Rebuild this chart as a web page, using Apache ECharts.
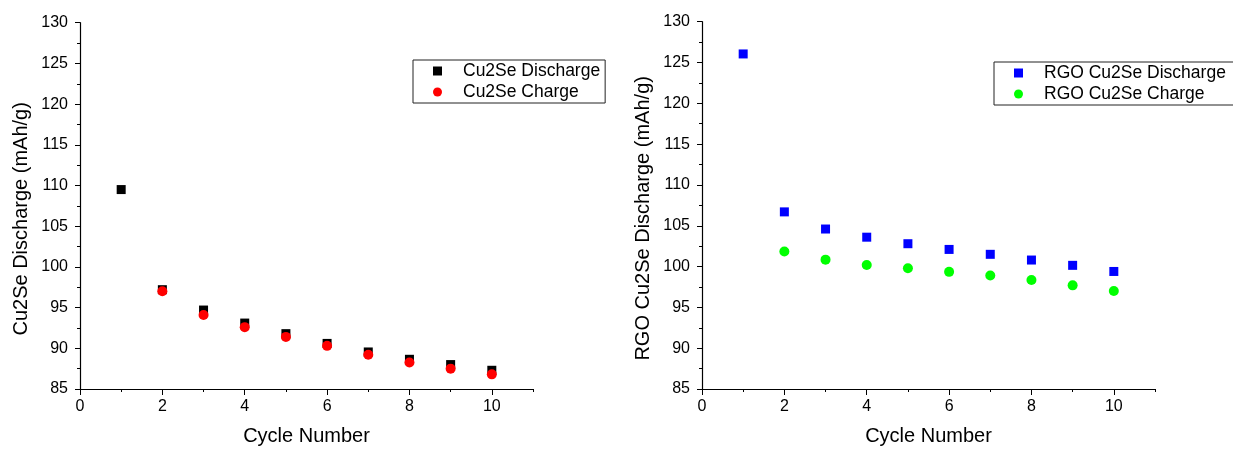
<!DOCTYPE html>
<html>
<head>
<meta charset="utf-8">
<script src="https://cdn.jsdelivr.net/npm/echarts@6/dist/echarts.min.js"></script>
<style>
html,body{margin:0;padding:0;background:#fff;}
#chart{width:1233px;height:451px;}
</style>
</head>
<body>
<div id="chart"></div>
<script>
const cycles = [1, 2, 3, 4, 5, 6, 7, 8, 9, 10];
const cu2seDischarge = [109.5, 97.2, 94.7, 93.1, 91.8, 90.6, 89.55, 88.65, 88.0, 87.3];
const cu2seCharge = [null, 97.0, 94.1, 92.6, 91.4, 90.3, 89.2, 88.25, 87.5, 86.8];
const rgoDischarge = [126.05, 106.7, 104.6, 103.6, 102.8, 102.1, 101.5, 100.8, 100.15, 99.4];
const rgoCharge = [null, 101.85, 100.85, 100.2, 99.8, 99.35, 98.9, 98.35, 97.7, 97.0];
const xMajorTicks = [0, 2, 4, 6, 8, 10];

function pairs(vals) {
  const out = [];
  cycles.forEach((c, i) => { if (vals[i] != null) out.push([c, vals[i]]); });
  return out;
}

const FONT = '"Liberation Sans", Arial, sans-serif';
const black = '#000';

function mainX(gridIndex) {
  return {
    type: 'value', gridIndex: gridIndex, min: 0, max: 11, interval: 1, position: 'bottom',
    axisLine: { show: true, lineStyle: { color: black, width: 1.2 } },
    axisTick: { show: true, inside: false, length: 3, lineStyle: { color: black, width: 1 } },
    axisLabel: { customValues: xMajorTicks, color: black, fontSize: 16, fontFamily: FONT, margin: 10 },
    splitLine: { show: false },
    name: 'Cycle Number', nameLocation: 'middle', nameGap: 37,
    nameTextStyle: { color: black, fontSize: 20, fontFamily: FONT }
  };
}
function majorX(gridIndex) {
  return {
    type: 'value', gridIndex: gridIndex, min: 0, max: 11, interval: 1, position: 'bottom',
    axisLine: { show: false },
    axisTick: { show: true, customValues: xMajorTicks, length: 6, lineStyle: { color: black, width: 1 } },
    axisLabel: { show: false },
    splitLine: { show: false }
  };
}
function yAx(gridIndex, name) {
  return {
    type: 'value', gridIndex: gridIndex, min: 85, max: 130, interval: 5,
    axisLine: { show: true, lineStyle: { color: black, width: 1.2 } },
    axisTick: { show: true, length: 5, lineStyle: { color: black, width: 1 } },
    minorTick: { show: true, splitNumber: 2, length: 3, lineStyle: { color: black, width: 1 } },
    axisLabel: { color: black, fontSize: 16, fontFamily: FONT, margin: 12 },
    splitLine: { show: false },
    name: name, nameLocation: 'middle', nameGap: 49,
    nameTextStyle: { color: black, fontSize: 20, fontFamily: FONT, padding: [0, 26, 0, 0] }
  };
}
function legend(left, top, names, padRight) {
  return {
    data: names, orient: 'vertical', left: left, top: top,
    itemWidth: 9, itemHeight: 9, itemGap: 3,
    padding: [2, padRight, 2, 20],
    borderColor: '#222', borderWidth: 1, borderRadius: 0,
    backgroundColor: '#fff',
    itemStyle: { opacity: 1 },
    textStyle: { color: black, fontSize: 17.5, fontFamily: FONT, lineHeight: 18, padding: [0, 0, 0, 16] }
  };
}

const chart = echarts.init(document.getElementById('chart'), null, { renderer: 'canvas' });
chart.setOption({
  backgroundColor: '#fff',
  animation: false,
  grid: [
    { left: 80, right: 700, top: 22.7, bottom: 60.3, containLabel: false },
    { left: 702, right: 78, top: 21.7, bottom: 61.5, containLabel: false }
  ],
  xAxis: [mainX(0), majorX(0), mainX(1), majorX(1)],
  yAxis: [yAx(0, 'Cu2Se Discharge (mAh/g)'), yAx(1, 'RGO Cu2Se Discharge (mAh/g)')],
  legend: [
    legend(413, 60, ['Cu2Se Discharge', 'Cu2Se Charge'], 5),
    legend(994, 62, ['RGO Cu2Se Discharge', 'RGO Cu2Se Charge'], 12)
  ],
  series: [
    { name: 'Cu2Se Discharge', type: 'scatter', xAxisIndex: 0, yAxisIndex: 0, symbol: 'rect', symbolSize: 9,
      itemStyle: { color: '#000000', opacity: 1 }, data: pairs(cu2seDischarge) },
    { name: 'Cu2Se Charge', type: 'scatter', xAxisIndex: 0, yAxisIndex: 0, symbol: 'circle', symbolSize: 10,
      itemStyle: { color: '#ff0000', opacity: 1 }, data: pairs(cu2seCharge) },
    { name: 'RGO Cu2Se Discharge', type: 'scatter', xAxisIndex: 2, yAxisIndex: 1, symbol: 'rect', symbolSize: 9,
      itemStyle: { color: '#0000ff', opacity: 1 }, data: pairs(rgoDischarge) },
    { name: 'RGO Cu2Se Charge', type: 'scatter', xAxisIndex: 2, yAxisIndex: 1, symbol: 'circle', symbolSize: 10,
      itemStyle: { color: '#00ff00', opacity: 1 }, data: pairs(rgoCharge) }
  ]
});
</script>
</body>
</html>
